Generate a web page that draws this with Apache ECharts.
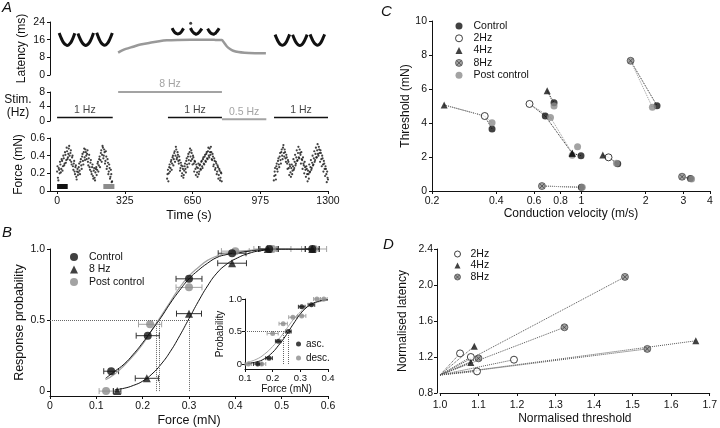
<!DOCTYPE html>
<html>
<head>
<meta charset="utf-8">
<script src="https://cdn.jsdelivr.net/npm/echarts@6/dist/echarts.min.js"></script>
<style>
html, body { margin: 0; padding: 0; background: #fff; }
#chart { width: 720px; height: 428px; }
</style>
</head>
<body>
<div id="chart"></div>
<script>
// ---------- Panel A: latency / stimulation rate / force vs time ----------
const timeTicks = [0, 325, 650, 975, 1300];

// latency runs (ms), sampled at a fixed step from a start time; null = gap
const latencyRun1 = [19.0, 17.2, 15.6, 14.5, 13.8, 13.4, 13.6, 14.3, 15.4, 17.0, 18.9, null,
  18.8, 17.0, 15.5, 14.4, 13.7, 13.4, 13.7, 14.4, 15.5, 17.1, 19.0, null,
  19.1, 17.3, 15.7, 14.5, 13.8, 13.5, 13.7, 14.4, 15.6, 17.2, 19.0];
const latencyRun2 = [21.2, 20.2, 19.5, 19.0, 18.7, 18.6, 18.7, 19.0, 19.5, 20.3, 21.1, null, null, null, null, null,
  21.3, 20.3, 19.5, 19.0, 18.7, 18.5, 18.7, 19.1, 19.6, 20.3, 21.0, null, null, null, null,
  21.0, 20.1, 19.4, 18.9, 18.6, 18.5, 18.7, 19.0, 19.6, 20.3, 21.2];
const latencyRun3 = [18.3, 16.7, 15.3, 14.3, 13.7, 13.5, 13.7, 14.3, 15.3, 16.8, 18.4, null,
  18.2, 16.6, 15.2, 14.2, 13.6, 13.4, 13.6, 14.2, 15.3, 16.7, 18.3, null,
  18.4, 16.8, 15.4, 14.4, 13.8, 13.5, 13.7, 14.3, 15.4, 16.9, 18.4];
const latencyRunStart = [10, 552, 1046];
const latencyRunStep = [7.5, 5.5, 7];
const latencyOutlier = [[641, 23.4]];

// 8 Hz / 0.5 Hz latency trace
const latencyTraceTime = [293, 310, 330, 365, 400, 446, 490, 527, 580, 640, 700, 760, 790, 800, 815, 830, 845, 870, 900, 950, 1002];
const latencyTraceValue = [10.1, 11.0, 11.8, 12.8, 13.8, 14.6, 15.3, 15.7, 15.9, 16.0, 16.0, 15.9, 15.8, 14.8, 12.9, 11.8, 11.0, 10.4, 10.1, 9.9, 9.8];

// stimulation protocol
const stimStart = [0, 293, 532, 791, 1041];
const stimEnd = [267, 791, 791, 1004, 1300];
const stimRate = [1, 8, 1, 0.5, 1];

// force (mN), two interleaved sample sets per 1 Hz run, every 4 s
const force1 = [0.22,0.15,0.26,0.20,0.30,0.25,0.34,0.28,0.37,0.31,0.41,0.35,0.45,0.38,0.48,0.40,0.43,0.33,0.38,0.28,0.31,0.22,0.27,0.16,0.22,0.18,0.27,0.23,0.33,0.29,0.39,0.34,0.44,0.38,0.47,0.40,0.42,0.33,0.37,0.27,0.32,0.22,0.27,0.17,0.23,0.15,0.21,0.27,0.24,0.33,0.29,0.39,0.35,0.46,0.41,0.49,0.40,0.44,0.34,0.39,0.28,0.32,0.22,0.26,0.16,0.19,0.11];
const force1b = [0.28,0.12,0.24,0.33,0.21,0.36,0.23,0.40,0.29,0.44,0.32,0.49,0.36,0.42,0.51,0.35,0.46,0.30,0.40,0.24,0.34,0.19,0.29,0.13,0.25,0.21,0.31,0.19,0.36,0.25,0.42,0.30,0.48,0.35,0.44,0.36,0.46,0.29,0.41,0.24,0.35,0.19,0.30,0.14,0.26,0.12,0.25,0.18,0.31,0.22,0.36,0.27,0.43,0.33,0.51,0.37,0.47,0.31,0.45,0.25,0.36,0.19,0.30,0.14,0.24,0.10];
const force2 = [0.14,0.24,0.20,0.30,0.26,0.35,0.31,0.40,0.36,0.45,0.40,0.47,0.38,0.41,0.31,0.35,0.26,0.29,0.20,0.25,0.18,0.28,0.25,0.34,0.30,0.39,0.35,0.44,0.39,0.46,0.36,0.40,0.31,0.34,0.25,0.30,0.21,0.26,0.19,0.29,0.25,0.33,0.28,0.36,0.31,0.39,0.34,0.42,0.37,0.45,0.40,0.48,0.41,0.44,0.35,0.39,0.30,0.34,0.26,0.31,0.22,0.27,0.18,0.23,0.15,0.20];
const force2b = [0.19,0.11,0.27,0.22,0.33,0.24,0.38,0.29,0.43,0.33,0.50,0.36,0.44,0.34,0.39,0.23,0.32,0.17,0.28,0.15,0.23,0.31,0.21,0.37,0.27,0.42,0.31,0.48,0.34,0.43,0.30,0.38,0.22,0.33,0.18,0.27,0.16,0.31,0.22,0.30,0.24,0.34,0.26,0.38,0.30,0.41,0.33,0.44,0.36,0.49,0.38,0.44,0.50,0.36,0.42,0.28,0.37,0.24,0.33,0.19,0.29,0.14,0.25,0.12,0.21,0.11];
const force3 = [0.12,0.22,0.18,0.28,0.25,0.34,0.30,0.39,0.35,0.44,0.40,0.49,0.43,0.47,0.37,0.41,0.31,0.35,0.26,0.30,0.21,0.26,0.19,0.28,0.24,0.33,0.29,0.38,0.34,0.43,0.38,0.47,0.41,0.44,0.35,0.38,0.29,0.33,0.24,0.28,0.19,0.23,0.14,0.21,0.27,0.24,0.32,0.29,0.37,0.33,0.42,0.38,0.46,0.42,0.50,0.43,0.46,0.36,0.40,0.30,0.34,0.25,0.28,0.19,0.22,0.13];
const force3b = [0.17,0.26,0.13,0.31,0.22,0.37,0.27,0.43,0.31,0.47,0.36,0.52,0.39,0.44,0.33,0.38,0.25,0.33,0.18,0.28,0.16,0.30,0.23,0.36,0.26,0.41,0.31,0.46,0.35,0.50,0.37,0.43,0.31,0.36,0.25,0.31,0.20,0.27,0.16,0.25,0.11,0.19,0.30,0.22,0.35,0.26,0.40,0.30,0.45,0.35,0.49,0.38,0.53,0.40,0.47,0.33,0.43,0.28,0.37,0.22,0.31,0.17,0.25,0.10,0.15];
const forceStart = [0, 528, 1040];
const forceStartB = [2, 530, 1042];
const forceStep = 4;
const controlWindow = [0, 51];
const postWindow = [222, 275];
const windowLevel = 0.05;

// ---------- Panel B: response probability vs force ----------
const bForceControl = [0.132, 0.211, 0.300, 0.393, 0.473, 0.566];
const bProbControl = [0.14, 0.39, 0.79, 0.97, 1.0, 1.0];
const bErrControl = [0.016, 0.025, 0.028, 0.030, 0.020, 0.015];
const bForce8Hz = [0.145, 0.209, 0.300, 0.393, 0.470, 0.566];
const bProb8Hz = [0.0, 0.09, 0.545, 0.90, 1.0, 1.0];
const bErr8Hz = [0.008, 0.025, 0.027, 0.031, 0.020, 0.015];
const bForcePost = [0.121, 0.216, 0.300, 0.400, 0.480, 0.570];
const bProbPost = [0.0, 0.47, 0.73, 0.985, 1.0, 1.0];
const bErrPost = [0.015, 0.025, 0.028, 0.030, 0.040, 0.027];
const bCurveForce = [0.12, 0.14, 0.16, 0.18, 0.20, 0.22, 0.24, 0.26, 0.28, 0.30, 0.32, 0.34, 0.36, 0.38, 0.40, 0.43, 0.46, 0.50, 0.55, 0.57];
const bCurveControl = [0.09, 0.14, 0.19, 0.26, 0.34, 0.43, 0.52, 0.62, 0.71, 0.79, 0.85, 0.90, 0.94, 0.96, 0.97, 0.985, 0.995, 1.0, 1.0, 1.0];
const bCurvePost = [0.08, 0.12, 0.18, 0.25, 0.33, 0.43, 0.53, 0.63, 0.73, 0.81, 0.87, 0.92, 0.95, 0.97, 0.98, 0.99, 1.0, 1.0, 1.0, 1.0];
const bCurve8Hz = [null, 0.01, 0.02, 0.04, 0.07, 0.12, 0.19, 0.28, 0.39, 0.51, 0.63, 0.74, 0.83, 0.89, 0.93, 0.97, 0.99, 1.0, 1.0, 1.0];
const bHalfForce = [0.230, 0.236, 0.300];

// inset: ascending / descending force series
const insetForceAsc = [0.146, 0.187, 0.220, 0.257, 0.305, 0.340];
const insetProbAsc = [0.0, 0.09, 0.35, 0.50, 0.88, 0.91];
const insetErrAsc = [0.015, 0.012, 0.010, 0.010, 0.012, 0.012];
const insetForceDesc = [0.112, 0.160, 0.200, 0.238, 0.273, 0.305, 0.360, 0.385];
const insetProbDesc = [0.0, 0.0, 0.47, 0.62, 0.72, 0.74, 1.0, 1.0];
const insetErrDesc = [0.012, 0.015, 0.020, 0.015, 0.015, 0.015, 0.012, 0.012];
const insetCurveForce = [0.11, 0.14, 0.17, 0.20, 0.22, 0.24, 0.26, 0.28, 0.30, 0.32, 0.34, 0.37, 0.40];
const insetCurveAsc = [0.01, 0.03, 0.08, 0.18, 0.28, 0.39, 0.52, 0.65, 0.77, 0.86, 0.92, 0.97, 0.99];
const insetCurveDesc = [0.03, 0.07, 0.15, 0.27, 0.37, 0.48, 0.60, 0.71, 0.80, 0.87, 0.92, 0.96, 0.98];
const insetHalfForce = [0.237, 0.255];

// ---------- Panel C: threshold vs conduction velocity, one entry per fibre ----------
const cvTicks = [0.2, 0.4, 0.6, 0.8, 1, 2, 3, 4];
const cvControl = [[0.382, 3.65], [0.678, 4.41], [0.745, 5.19], [0.996, 2.08], [2.26, 5.02], [1.48, 1.60], [1.00, 0.22], [3.24, 0.74], null];
const cvPost = [[0.382, 4.02], [0.717, 4.33], [0.745, 5.00], [0.906, 2.10], [2.15, 4.92], [1.46, 1.63], [1.01, 0.22], [3.28, 0.70], [0.96, 2.60]];
const cv2Hz = [[0.353, 4.41], [0.572, 5.12], null, null, null, [1.34, 1.98], null, null, null];
const cv4Hz = [[0.228, 5.06], [0.906, 2.22], [0.692, 5.90], [0.906, 2.22], null, [1.26, 2.12], null, null, null];
const cv8Hz = [null, null, null, null, [1.70, 7.66], null, [0.654, 0.29], [2.96, 0.84], null];

// ---------- Panel D: normalised latency vs normalised threshold ----------
const normOrigin = [1, 1];
const normThr2Hz = [1.052, 1.080, 1.096, 1.192];
const normLat2Hz = [1.24, 1.20, 1.04, 1.17];
const normThr4Hz = [1.089, 1.080, 1.664];
const normLat4Hz = [1.32, 1.14, 1.38];
const normThr8Hz = [1.100, 1.323, 1.480, 1.538];
const normLat8Hz = [1.185, 1.53, 2.09, 1.29];
const normLatTicks = [0.8, 1.2, 1.6, 2.0, 2.4];

// ---------- styling ----------
const FONT = '"Liberation Sans", Arial, sans-serif';
const BLACK = '#111';
const GREY = '#8c8c8c';
const LIGHT = '#a3a3a3';
const SYMBOL_8HZ = 'path://M0,5A5,5,0,1,1,10,5A5,5,0,1,1,0,5ZM1.7,1.7L8.3,8.3M8.3,1.7L1.7,8.3';
const oneDec = v => (v === 0 ? '0' : v.toFixed(1));

function axis(o) {
  return {
    type: 'value',
    gridIndex: o.grid,
    show: o.show !== false,
    offset: o.offset || 0,
    min: o.min, max: o.max, interval: o.interval,
    name: o.name || '', nameLocation: 'middle', nameGap: o.nameGap || 20,
    nameRotate: o.nameRotate,
    nameTextStyle: Object.assign({ color: BLACK, fontSize: 12, fontFamily: FONT }, o.nameStyle || {}),
    axisLine: { show: true, onZero: false, lineStyle: { color: BLACK, width: 1 } },
    axisTick: { show: true, length: 3, lineStyle: { color: BLACK, width: 1 }, customValues: o.ticks },
    axisLabel: { color: BLACK, fontSize: o.fontSize || 10.5, fontFamily: FONT, margin: o.margin || 5,
      formatter: o.fmt || (v => String(v)), customValues: o.ticks, hideOverlap: false },
    splitLine: { show: false }
  };
}

const zip = (xs, ys) => xs.map((x, i) => [x, ys[i] === null ? '-' : ys[i]]);
const zip3 = (xs, ys, es) => xs.map((x, i) => [x, ys[i], es[i]]);
const sampled = (start, step, vals) => vals.map((v, i) => [start + i * step, v === null ? '-' : v]);

function errorBars(ax, data, color, cap) {
  return {
    type: 'custom', xAxisIndex: ax, yAxisIndex: ax, data: data, z: 2, silent: true,
    dimensions: ['x', 'y', 'e'], encode: { x: 0, y: 1 },
    renderItem: function (params, api) {
      const x = api.value(0), y = api.value(1), e = api.value(2);
      const a = api.coord([x - e, y]), b = api.coord([x + e, y]);
      const s = { stroke: color, lineWidth: 1 };
      return { type: 'group', children: [
        { type: 'line', shape: { x1: a[0], y1: a[1], x2: b[0], y2: b[1] }, style: s },
        { type: 'line', shape: { x1: a[0], y1: a[1] - cap, x2: a[0], y2: a[1] + cap }, style: s },
        { type: 'line', shape: { x1: b[0], y1: b[1] - cap, x2: b[0], y2: b[1] + cap }, style: s }
      ] };
    }
  };
}

const dotted = { type: 'dotted', color: '#666', width: 1 };
const series = [];

// Panel A series
[latencyRun1, latencyRun2, latencyRun3].forEach((run, i) => {
  series.push({ type: 'line', xAxisIndex: 0, yAxisIndex: 0, symbol: 'none', smooth: 0.3,
    data: sampled(latencyRunStart[i], latencyRunStep[i], run), lineStyle: { color: BLACK, width: 3 } });
});
series.push({ type: 'scatter', xAxisIndex: 0, yAxisIndex: 0, data: latencyOutlier, symbolSize: 3, itemStyle: { color: BLACK } });
series.push({ type: 'line', xAxisIndex: 0, yAxisIndex: 0, symbol: 'none', smooth: 0.3,
  data: zip(latencyTraceTime, latencyTraceValue), lineStyle: { color: '#999', width: 2.5 } });

stimRate.forEach((rate, i) => {
  const col = rate === 1 ? BLACK : LIGHT;
  series.push({ type: 'line', xAxisIndex: 1, yAxisIndex: 1, symbol: 'none',
    data: [[stimStart[i], rate], [stimEnd[i], rate]], lineStyle: { color: col, width: rate === 1 ? 1.5 : 2 } });
  series.push({ type: 'scatter', xAxisIndex: 1, yAxisIndex: 1, symbolSize: 0,
    data: [[(stimStart[i] + stimEnd[i]) / 2, rate]],
    label: { show: true, position: 'top', distance: 2, formatter: rate + ' Hz', color: rate === 1 ? BLACK : GREY,
      fontSize: 10.5, fontFamily: FONT } });
});

[force1, force2, force3].forEach((vals, i) => {
  series.push({ type: 'scatter', xAxisIndex: 2, yAxisIndex: 2, symbolSize: 2.2,
    data: sampled(forceStart[i], forceStep, vals), itemStyle: { color: BLACK } });
});
[force1b, force2b, force3b].forEach((vals, i) => {
  series.push({ type: 'scatter', xAxisIndex: 2, yAxisIndex: 2, symbolSize: 2.2,
    data: sampled(forceStartB[i], forceStep, vals), itemStyle: { color: BLACK } });
});
series.push({ type: 'line', xAxisIndex: 2, yAxisIndex: 2, symbol: 'none',
  data: controlWindow.map(t => [t, windowLevel]), lineStyle: { color: BLACK, width: 5, cap: 'butt' } });
series.push({ type: 'line', xAxisIndex: 2, yAxisIndex: 2, symbol: 'none',
  data: postWindow.map(t => [t, windowLevel]), lineStyle: { color: GREY, width: 5, cap: 'butt' } });

// Panel B series
series.push({ type: 'line', xAxisIndex: 3, yAxisIndex: 3, symbol: 'none', smooth: true,
  data: zip(bCurveForce, bCurvePost), lineStyle: { color: LIGHT, width: 1.2 } });
series.push({ type: 'line', xAxisIndex: 3, yAxisIndex: 3, symbol: 'none', smooth: true,
  data: zip(bCurveForce, bCurveControl), lineStyle: { color: BLACK, width: 1 },
  markLine: { silent: true, symbol: ['none', 'none'], label: { show: false }, lineStyle: dotted,
    data: [[{ coord: [0, 0.5] }, { coord: [bHalfForce[2], 0.5] }]].concat(
      bHalfForce.map(f => [{ coord: [f, 0] }, { coord: [f, 0.5] }])) } });
series.push({ type: 'line', xAxisIndex: 3, yAxisIndex: 3, symbol: 'none', smooth: true,
  data: zip(bCurveForce, bCurve8Hz), lineStyle: { color: BLACK, width: 1 } });
series.push(errorBars(3, zip3(bForcePost, bProbPost, bErrPost), LIGHT, 3));
series.push(errorBars(3, zip3(bForceControl, bProbControl, bErrControl), '#333', 3));
series.push(errorBars(3, zip3(bForce8Hz, bProb8Hz, bErr8Hz), '#333', 3));
series.push({ name: 'Post control', type: 'scatter', xAxisIndex: 3, yAxisIndex: 3, symbolSize: 8, z: 3,
  data: zip(bForcePost, bProbPost), itemStyle: { color: GREY } });
series.push({ name: 'Control', type: 'scatter', xAxisIndex: 3, yAxisIndex: 3, symbolSize: 8, z: 3,
  data: zip(bForceControl, bProbControl), itemStyle: { color: BLACK } });
series.push({ name: '8 Hz', type: 'scatter', xAxisIndex: 3, yAxisIndex: 3, symbol: 'triangle', symbolSize: 8, z: 3,
  data: zip(bForce8Hz, bProb8Hz), itemStyle: { color: BLACK } });

// inset series
series.push({ type: 'line', xAxisIndex: 4, yAxisIndex: 4, symbol: 'none', smooth: true,
  data: zip(insetCurveForce, insetCurveDesc), lineStyle: { color: LIGHT, width: 1 } });
series.push({ type: 'line', xAxisIndex: 4, yAxisIndex: 4, symbol: 'none', smooth: true,
  data: zip(insetCurveForce, insetCurveAsc), lineStyle: { color: BLACK, width: 1 },
  markLine: { silent: true, symbol: ['none', 'none'], label: { show: false }, lineStyle: dotted,
    data: [[{ coord: [0.1, 0.5] }, { coord: [insetHalfForce[1], 0.5] }]].concat(
      insetHalfForce.map(f => [{ coord: [f, 0] }, { coord: [f, 0.5] }])) } });
series.push(errorBars(4, zip3(insetForceDesc, insetProbDesc, insetErrDesc), LIGHT, 2));
series.push(errorBars(4, zip3(insetForceAsc, insetProbAsc, insetErrAsc), '#333', 2));
series.push({ name: 'desc.', type: 'scatter', xAxisIndex: 4, yAxisIndex: 4, symbolSize: 5, z: 3,
  data: zip(insetForceDesc, insetProbDesc), itemStyle: { color: GREY } });
series.push({ name: 'asc.', type: 'scatter', xAxisIndex: 4, yAxisIndex: 4, symbolSize: 5, z: 3,
  data: zip(insetForceAsc, insetProbAsc), itemStyle: { color: BLACK } });

// Panel C series
const logPt = p => [Math.log10(p[0]), p[1]];
cvControl.forEach((ctrl, i) => {
  const stims = [cv2Hz[i], cv4Hz[i], cv8Hz[i]].filter(Boolean);
  if (!stims.length) return;
  [[ctrl, '#222'], [cvPost[i], '#999']].forEach(([base, col]) => {
    if (!base) return;
    const pts = stims.concat([base]).sort((a, b) => b[1] - a[1]);
    series.push({ type: 'line', xAxisIndex: 5, yAxisIndex: 5, symbol: 'none', z: 1,
      data: pts.map(logPt), lineStyle: { color: col, width: 1, type: 'dotted' } });
  });
});
const cScatter = (name, arr, style, symbol) => ({ name: name, type: 'scatter', xAxisIndex: 5, yAxisIndex: 5,
  symbol: symbol || 'circle', symbolSize: 7, z: 3, data: arr.filter(Boolean).map(logPt), itemStyle: style });
series.push(cScatter('Control', cvControl, { color: BLACK }));
series.push(cScatter('Post control', cvPost, { color: GREY }));
series.push(cScatter('2Hz', cv2Hz, { color: '#fff', borderColor: BLACK, borderWidth: 1 }));
series.push(cScatter('4Hz', cv4Hz, { color: BLACK }, 'triangle'));
series.push(cScatter('8Hz', cv8Hz, { color: GREY, borderColor: '#333', borderWidth: 0.8 }, SYMBOL_8HZ));

// Panel D series
[[normThr2Hz, normLat2Hz], [normThr4Hz, normLat4Hz], [normThr8Hz, normLat8Hz]].forEach(([xs, ys]) => {
  xs.forEach((x, i) => {
    series.push({ type: 'line', xAxisIndex: 6, yAxisIndex: 6, symbol: 'none', z: 1,
      data: [normOrigin, [x, ys[i]]], lineStyle: { color: '#555', width: 1, type: 'dotted' } });
  });
});
series.push({ name: '2Hz', type: 'scatter', xAxisIndex: 6, yAxisIndex: 6, symbolSize: 7, z: 3,
  data: zip(normThr2Hz, normLat2Hz), itemStyle: { color: '#fff', borderColor: BLACK, borderWidth: 1 } });
series.push({ name: '4Hz', type: 'scatter', xAxisIndex: 6, yAxisIndex: 6, symbol: 'triangle', symbolSize: 7, z: 3,
  data: zip(normThr4Hz, normLat4Hz), itemStyle: { color: BLACK } });
series.push({ name: '8Hz', type: 'scatter', xAxisIndex: 6, yAxisIndex: 6, symbol: SYMBOL_8HZ, symbolSize: 7, z: 3,
  data: zip(normThr8Hz, normLat8Hz), itemStyle: { color: GREY, borderColor: '#333', borderWidth: 0.8 } });

// ---------- legends ----------
const legendText = { color: BLACK, fontSize: 10.5, fontFamily: FONT, lineHeight: 12, padding: [0, 0, 0, 4] };
const legendItem = (name, icon, style) => ({ name: name, icon: icon, itemStyle: Object.assign({ borderWidth: 0 }, style) });
function legend(left, top, gap, size, items, text) {
  return { left: left, top: top, orient: 'vertical', itemWidth: size, itemHeight: size, itemGap: gap,
    selectedMode: false, padding: 0, textStyle: Object.assign({}, legendText, text || {}), data: items };
}

const chart = echarts.init(document.getElementById('chart'));
chart.setOption({
  animation: false,
  backgroundColor: '#fff',
  title: [
    { text: 'A', left: 2, top: 0 }, { text: 'B', left: 2, top: 225 },
    { text: 'C', left: 381, top: 4 }, { text: 'D', left: 383, top: 237 }
  ].map(t => Object.assign(t, { padding: 0, textStyle: { fontSize: 15, fontStyle: 'italic', fontWeight: 'normal', color: BLACK, fontFamily: FONT } })),
  legend: [
    legend(70, 251, 0.5, 8, [
      legendItem('Control', 'circle', { color: BLACK }),
      legendItem('8 Hz', 'triangle', { color: BLACK }),
      legendItem('Post control', 'circle', { color: GREY })
    ], { padding: [0, 0, 0, 6] }),
    legend(296, 338, 2, 5, [
      legendItem('asc.', 'circle', { color: BLACK }),
      legendItem('desc.', 'circle', { color: GREY })
    ], { fontSize: 10, padding: [0, 0, 0, 0] }),
    legend(455, 20, 0.3, 7, [
      legendItem('Control', 'circle', { color: BLACK }),
      legendItem('2Hz', 'circle', { color: '#fff', borderColor: BLACK, borderWidth: 1 }),
      legendItem('4Hz', 'triangle', { color: BLACK }),
      legendItem('8Hz', SYMBOL_8HZ, { color: GREY, borderColor: '#333', borderWidth: 0.8 }),
      legendItem('Post control', 'circle', { color: GREY })
    ], { padding: [0, 0, 0, 6] }),
    legend(454, 248, -0.5, 6, [
      legendItem('2Hz', 'circle', { color: '#fff', borderColor: BLACK, borderWidth: 1 }),
      legendItem('4Hz', 'triangle', { color: BLACK }),
      legendItem('8Hz', SYMBOL_8HZ, { color: GREY, borderColor: '#333', borderWidth: 0.8 })
    ], { padding: [0, 0, 0, 5] })
  ],
  grid: [
    { left: 50, top: 22, width: 278, height: 53 },
    { left: 50, top: 92, width: 278, height: 29 },
    { left: 50, top: 138, width: 278, height: 53 },
    { left: 50, top: 249, width: 278, height: 150 },
    { left: 245, top: 299, width: 83, height: 70 },
    { left: 432, top: 21, width: 278, height: 170 },
    { left: 440, top: 249, width: 270, height: 144 }
  ],
  xAxis: [
    axis({ grid: 0, show: false, min: -34, max: 1300 }),
    axis({ grid: 1, show: false, min: -34, max: 1300 }),
    axis({ grid: 2, min: -34, max: 1300, ticks: timeTicks, name: 'Time (s)', nameGap: 18, nameStyle: { fontSize: 12.5 } }),
    axis({ grid: 3, min: 0, max: 0.6, interval: 0.1, fmt: oneDec, name: 'Force (mN)', nameGap: 18, nameStyle: { fontSize: 12.5 } }),
    axis({ grid: 4, min: 0.1, max: 0.4, interval: 0.1, fmt: oneDec, fontSize: 9.5, margin: 4, name: 'Force (mN)', nameGap: 13, nameStyle: { fontSize: 10 } }),
    axis({ grid: 5, min: Math.log10(0.2), max: Math.log10(4), ticks: cvTicks.map(Math.log10),
      fmt: v => String(Math.round(Math.pow(10, v) * 10) / 10), name: 'Conduction velocity (m/s)', nameGap: 16 }),
    axis({ grid: 6, min: 1.0, max: 1.7, interval: 0.1, fmt: oneDec, margin: 7, name: 'Normalised threshold', nameGap: 20 })
  ],
  yAxis: [
    axis({ grid: 0, min: 0, max: 24, interval: 8, name: 'Latency (ms)', nameGap: 22 }),
    axis({ grid: 1, min: 0, max: 8, interval: 4, name: 'Stim.\n(Hz)', nameRotate: 0, nameGap: 32,
      nameStyle: { align: 'center', verticalAlign: 'middle', lineHeight: 13, fontSize: 12 } }),
    axis({ grid: 2, min: 0, max: 0.6, interval: 0.2, fmt: oneDec, name: 'Force (mN)', nameGap: 25 }),
    axis({ grid: 3, min: -0.0345, max: 1, ticks: [0, 0.5, 1], fmt: oneDec, name: 'Response probability', nameGap: 24, nameStyle: { fontSize: 12.5 } }),
    axis({ grid: 4, min: -0.077, max: 1, ticks: [0, 0.5, 1], fmt: oneDec, fontSize: 9.5, margin: 3, name: 'Probability', nameGap: 16, nameStyle: { fontSize: 10 } }),
    axis({ grid: 5, min: 0, max: 10, interval: 2, name: 'Threshold (mN)', nameGap: 19 }),
    axis({ grid: 6, offset: 3, min: 0.8, max: 2.4, ticks: normLatTicks, fmt: oneDec, margin: 4, name: 'Normalised latency', nameGap: 28 })
  ],
  series: series
});
window.addEventListener('resize', function () { chart.resize(); });
</script>
</body>
</html>
